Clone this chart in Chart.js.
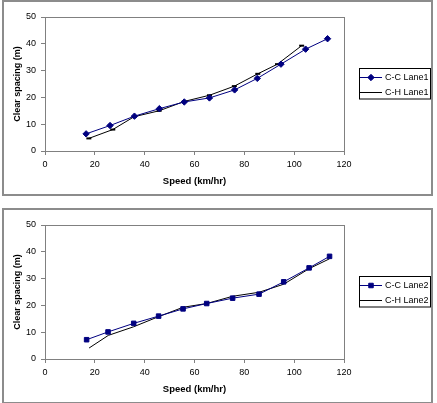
<!DOCTYPE html>
<html>
<head>
<meta charset="utf-8">
<script src="https://cdn.jsdelivr.net/npm/chart.js@4.4.0/dist/chart.umd.min.js"></script>
<style>
  html, body { margin: 0; padding: 0; background: #fff; width: 437px; height: 403px; overflow: hidden; }
  .box { position: absolute; left: 2px; border: 2px solid #8c8c8c; width: 427px; height: 192px; background: #fff; }
  canvas { display: block; }
</style>
</head>
<body>
<div class="box" style="top:0px"><canvas id="c1" width="427" height="192"></canvas></div>
<div class="box" style="top:208px"><canvas id="c2" width="427" height="192"></canvas></div>
<script>
// ---- data ----
const xTicks = [0, 20, 40, 60, 80, 100, 120];
const yTicks = [0, 10, 20, 30, 40, 50];

const ccLane1Speed = [16.5, 26.1, 35.9, 45.9, 55.9, 66.0, 76.1, 85.2, 94.7, 104.6, 113.4];
const ccLane1Space = [6.4, 9.5, 13.0, 15.8, 18.3, 19.8, 22.8, 27.1, 32.4, 38.0, 41.9];
const chLane1Speed = [17.6, 27.2, 35.8, 45.8, 55.9, 66.0, 76.0, 85.4, 93.3, 103.0];
const chLane1Space = [4.7, 8.0, 12.8, 15.0, 18.5, 20.8, 24.2, 28.8, 32.4, 39.3];

const ccLane2Speed = [16.7, 25.3, 35.6, 45.6, 55.4, 64.9, 75.3, 85.9, 95.8, 106.0, 114.2];
const ccLane2Space = [7.2, 10.1, 13.3, 16.0, 18.7, 20.7, 22.7, 24.2, 28.8, 34.0, 38.3];
const chLane2Speed = [17.7, 25.4, 35.5, 45.6, 55.4, 64.9, 75.3, 85.9, 95.8, 106.0, 114.2];
const chLane2Space = [4.1, 8.8, 12.0, 15.8, 19.3, 20.7, 23.4, 24.9, 27.9, 33.7, 37.4];

const xTitle = 'Speed (km/hr)';
const yTitle = 'Clear spacing (m)';

// ---- helpers ----
const FONT = "'Liberation Sans', Arial, sans-serif";
const GRAY = '#808080';
const NAVY = '#000080';

function pts(xs, ys) { return xs.map((x, i) => ({ x: x, y: ys[i] })); }

const framePlugin = {
  id: 'frame',
  beforeDatasetsDraw(chart) {
    const a = chart.chartArea, ctx = chart.ctx;
    ctx.save();
    ctx.strokeStyle = GRAY;
    ctx.lineWidth = 1;
    ctx.strokeRect(Math.round(a.left) + 0.5, Math.round(a.top) + 0.5,
                   Math.round(a.right - a.left), Math.round(a.bottom - a.top));
    ctx.restore();
  }
};

const legendPlugin = {
  id: 'excelLegend',
  afterDraw(chart) {
    const ctx = chart.ctx;
    const bx = 355, by = 66, bw = 71, bh = 30.5;
    ctx.save();
    ctx.strokeStyle = '#000';
    ctx.lineWidth = 1;
    ctx.strokeRect(bx + 0.5, by + 0.5, bw, bh);
    const rows = [75, 90];
    chart.data.datasets.forEach((ds, i) => {
      const y = rows[i];
      ctx.strokeStyle = ds.borderColor;
      ctx.lineWidth = 1;
      ctx.beginPath();
      ctx.moveTo(356, y + 0.5);
      ctx.lineTo(378, y + 0.5);
      ctx.stroke();
      if (ds.pointRadius > 0) {
        ctx.fillStyle = ds.pointBackgroundColor;
        ctx.strokeStyle = ds.pointBorderColor;
        Chart.helpers.drawPoint(ctx, {
          pointStyle: ds.pointStyle, radius: ds.pointRadius,
          borderWidth: ds.pointBorderWidth, rotation: 0
        }, 367, y + 0.5);
      }
      ctx.fillStyle = '#000';
      ctx.font = '9px ' + FONT;
      ctx.textBaseline = 'middle';
      ctx.textAlign = 'left';
      ctx.fillText(ds.label, 381, y + 0.5);
    });
    ctx.restore();
  }
};

function makeChart(id, datasets) {
  return new Chart(document.getElementById(id), {
    type: 'line',
    data: { datasets: datasets },
    plugins: [framePlugin, legendPlugin],
    options: {
      responsive: false,
      animation: false,
      devicePixelRatio: 1,
      layout: { padding: { top: 15, right: 87, bottom: 0, left: 0 } },
      plugins: { legend: { display: false }, tooltip: { enabled: false } },
      elements: { line: { tension: 0, borderWidth: 1 } },
      scales: {
        x: {
          type: 'linear', min: 0, max: 120,
          afterBuildTicks(s) { s.ticks = xTicks.map(v => ({ value: v })); },
          afterFit(s) { s.height = 43; },
          grid: { drawOnChartArea: false, drawTicks: true, tickLength: 4, color: GRAY, tickColor: GRAY },
          border: { display: true, color: GRAY, width: 1 },
          ticks: { color: '#000', font: { family: FONT, size: 9 }, padding: 4, maxRotation: 0 },
          title: { display: true, text: xTitle, color: '#000',
                   font: { family: FONT, size: 9.5, weight: 'bold' }, padding: { top: 0, bottom: 6.5 } }
        },
        y: {
          type: 'linear', min: 0, max: 50,
          afterBuildTicks(s) { s.ticks = yTicks.map(v => ({ value: v })); },
          afterFit(s) { s.width = 41; },
          grid: { drawOnChartArea: false, drawTicks: true, tickLength: 4, color: GRAY, tickColor: GRAY },
          border: { display: true, color: GRAY, width: 1 },
          ticks: { color: '#000', font: { family: FONT, size: 9 }, padding: 5 },
          title: { display: true, text: yTitle, color: '#000',
                   font: { family: FONT, size: 9, weight: 'bold' }, padding: { top: 8.5, bottom: 0 } }
        }
      }
    }
  });
}

makeChart('c1', [
  { label: 'C-C Lane1', data: pts(ccLane1Speed, ccLane1Space),
    borderColor: NAVY, backgroundColor: NAVY,
    pointStyle: 'rectRot', pointRadius: 3.2, pointBorderWidth: 1,
    pointBackgroundColor: NAVY, pointBorderColor: NAVY },
  { label: 'C-H Lane1', data: pts(chLane1Speed, chLane1Space),
    borderColor: '#000', backgroundColor: '#000',
    pointStyle: 'line', pointRadius: 2.5, pointBorderWidth: 2,
    pointBackgroundColor: '#000', pointBorderColor: '#000' }
]);

makeChart('c2', [
  { label: 'C-C Lane2', data: pts(ccLane2Speed, ccLane2Space),
    borderColor: NAVY, backgroundColor: NAVY,
    pointStyle: 'rect', pointRadius: 3.2, pointBorderWidth: 1,
    pointBackgroundColor: NAVY, pointBorderColor: NAVY },
  { label: 'C-H Lane2', data: pts(chLane2Speed, chLane2Space),
    borderColor: '#000', backgroundColor: '#000',
    pointStyle: 'circle', pointRadius: 0, pointBorderWidth: 0,
    pointBackgroundColor: '#000', pointBorderColor: '#000' }
]);
</script>
</body>
</html>
